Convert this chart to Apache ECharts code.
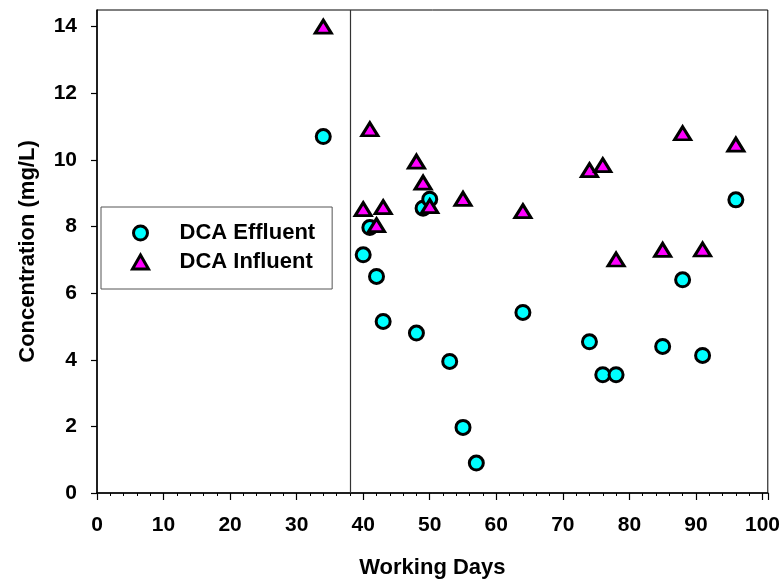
<!DOCTYPE html>
<html>
<head>
<meta charset="utf-8">
<script src="https://cdn.jsdelivr.net/npm/echarts@6/dist/echarts.min.js"></script>
<style>html,body{margin:0;padding:0;background:#fff}#c{width:783px;height:584px}</style>
</head>
<body>
<div id="c"></div>
<script>
// Data
const effluentDays = [34, 40, 41, 42, 43, 48, 49, 50, 53, 55, 57, 64, 74, 76, 78, 85, 88, 91, 96];
const effluentConc = [10.7, 7.15, 7.97, 6.5, 5.15, 4.8, 8.55, 8.82, 3.95, 1.97, 0.9, 5.42, 4.54, 3.55, 3.55, 4.4, 6.4, 4.13, 8.8];
const influentDays = [34, 40, 41, 42, 43, 48, 49, 50, 55, 64, 74, 76, 78, 85, 88, 91, 96];
const influentConc = [14.0, 8.52, 10.92, 8.04, 8.58, 9.95, 9.32, 8.61, 8.83, 8.46, 9.69, 9.84, 7.01, 7.3, 10.8, 7.31, 10.46];
const dividerDay = 38;
const seriesNames = ['DCA Effluent', 'DCA Influent'];
const xTitle = 'Working Days';
const yTitle = 'Concentration (mg/L)';

const pair = (xs, ys) => xs.map((x, i) => [x, ys[i]]);
const FONT = '"Liberation Sans", Arial, sans-serif';

const chart = echarts.init(document.getElementById('c'), null, {renderer: 'canvas'});
chart.setOption({
  animation: false,
  backgroundColor: '#fff',
  grid: {left: 97, top: 10, right: 15, bottom: 91, show: true, borderColor: '#000', borderWidth: 1, backgroundColor: 'transparent'},
  legend: {
    orient: 'vertical', left: 101, top: 207,
    data: [
      {name: seriesNames[0], icon: 'circle', itemStyle: {color: '#00FFFF', borderColor: '#000', borderWidth: 3}},
      {name: seriesNames[1], icon: 'triangle', itemStyle: {color: '#FF00FF', borderColor: '#000', borderWidth: 3}}
    ],
    itemWidth: 16, itemHeight: 14, itemGap: 5,
    padding: [14, 17, 15, 30],
    borderColor: '#555', borderWidth: 1,
    textStyle: {fontFamily: FONT, fontWeight: 'bold', fontSize: 22, color: '#000', lineHeight: 24, padding: [0, 0, 0, 26]}
  },
  xAxis: {
    type: 'value', min: 0, max: 100.8, interval: 10,
    name: xTitle, nameLocation: 'middle', nameGap: 64,
    nameTextStyle: {fontFamily: FONT, fontWeight: 'bold', fontSize: 22, color: '#000'},
    axisLine: {lineStyle: {color: '#000', width: 1.5}},
    axisTick: {show: true, inside: false, length: 7, lineStyle: {color: '#000', width: 1.2}},
    minorTick: {show: true, splitNumber: 5, length: 3, lineStyle: {color: '#000', width: 1}},
    axisLabel: {fontFamily: FONT, fontWeight: 'bold', fontSize: 21, color: '#000', margin: 22, showMaxLabel: false},
    splitLine: {show: false}
  },
  yAxis: {
    type: 'value', min: 0, max: 14.5, interval: 2,
    name: yTitle, nameLocation: 'middle', nameGap: 58,
    nameTextStyle: {fontFamily: FONT, fontWeight: 'bold', fontSize: 22, color: '#000'},
    axisLine: {lineStyle: {color: '#000', width: 1.5}},
    axisTick: {show: true, inside: false, length: 6, lineStyle: {color: '#000', width: 1.2}},
    axisLabel: {fontFamily: FONT, fontWeight: 'bold', fontSize: 21, color: '#000', margin: 20, showMaxLabel: false},
    splitLine: {show: false}
  },
  series: [
    {
      name: seriesNames[0], type: 'scatter', symbol: 'circle', symbolSize: 14,
      itemStyle: {color: '#00FFFF', borderColor: '#000', borderWidth: 3, opacity: 1},
      data: pair(effluentDays, effluentConc),
      markLine: {
        silent: true, symbol: 'none', label: {show: false},
        lineStyle: {color: '#333', width: 1.2, type: 'solid'},
        data: [{xAxis: dividerDay}]
      },
      z: 2
    },
    {
      name: seriesNames[1], type: 'scatter', symbol: 'triangle', symbolSize: [16, 13],
      itemStyle: {color: '#FF00FF', borderColor: '#000', borderWidth: 3, opacity: 1},
      data: pair(influentDays, influentConc),
      z: 3
    }
  ]
});
</script>
</body>
</html>
